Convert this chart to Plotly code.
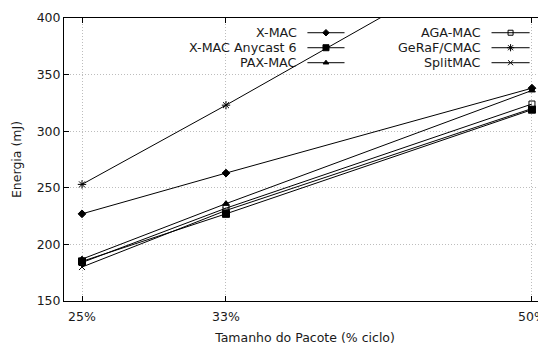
import plotly.graph_objects as go

x_vals = [25, 33, 50]
tick_labels = ["25%", "33%", "50%"]

names = ["X-MAC", "X-MAC Anycast 6", "PAX-MAC", "AGA-MAC", "GeRaF/CMAC", "SplitMAC"]
xmac = [227, 263, 338]
xmac_any = [185, 227, 319]
pax = [187, 236, 336]
aga = [184, 232, 324]
geraf = [253, 323, 476]
split = [180, 230, 320]
series = [xmac, xmac_any, pax, aga, geraf, split]
symbols = ["diamond", "square", "triangle-up", "square-open", "asterisk-open", "x-thin-open"]
sizes = [6, 7, 6, 6, 7, 6]

fig = go.Figure()
for n, s, sym, sz in zip(names, series, symbols, sizes):
    fig.add_trace(go.Scatter(x=x_vals, y=s, mode="lines+markers", name=n,
                             line=dict(color="black", width=1),
                             marker=dict(symbol=sym, size=sz, color="black",
                                         line=dict(color="black", width=1)),
                             showlegend=False, cliponaxis=True))

# custom gnuplot-style legend (text then line sample) in an overlay axis
leg_cols = [(0.487, 0.505, 0.582), (0.87, 0.887, 0.966)]
leg_rows = [0.948, 0.895, 0.842]
for i, (n, sym, sz) in enumerate(zip(names, symbols, sizes)):
    col = leg_cols[i // 3]
    row = leg_rows[i % 3]
    fig.add_trace(go.Scatter(x=[col[1], (col[1] + col[2]) / 2, col[2]], y=[row, row, row],
                             mode="lines", line=dict(color="black", width=1),
                             xaxis="x2", yaxis="y2", showlegend=False, hoverinfo="skip"))
    fig.add_trace(go.Scatter(x=[(col[1] + col[2]) / 2], y=[row], mode="markers",
                             marker=dict(symbol=sym, size=sz - 1, color="black",
                                         line=dict(color="black", width=1)),
                             xaxis="x2", yaxis="y2", showlegend=False, hoverinfo="skip"))
    fig.add_annotation(x=col[0], y=row, xref="x2", yref="y2", text=n, showarrow=False,
                       xanchor="right", yanchor="middle",
                       font=dict(family="DejaVu Sans", size=12.7, color="#1a1a1a"))

# page body has an 8px default margin, so margins are offset by 8px
fig.update_layout(
    width=546, height=345,
    margin=dict(l=56, r=8, t=10, b=52, autoexpand=False),
    paper_bgcolor="white", plot_bgcolor="white",
    font=dict(family="DejaVu Sans", size=12.5, color="#1a1a1a"),
    xaxis=dict(range=[24, 50.78], tickvals=x_vals, ticktext=tick_labels,
               showgrid=True, gridcolor="#bdbdbd", griddash="1px,2px", gridwidth=1,
               ticks="inside", ticklen=5, tickcolor="black", mirror="ticks",
               showline=True, linecolor="black", linewidth=1, zeroline=False,
               automargin=False, tickfont=dict(size=12.5), ticklabelstandoff=4,
               title=dict(text="Tamanho do Pacote (% ciclo)", font=dict(size=12.5), standoff=10)),
    yaxis=dict(range=[150, 400], tickvals=[150, 200, 250, 300, 350, 400],
               showgrid=True, gridcolor="#bdbdbd", griddash="1px,2px", gridwidth=1,
               ticks="inside", ticklen=5, tickcolor="black", mirror="ticks",
               showline=True, linecolor="black", linewidth=1, zeroline=False,
               automargin=False, tickfont=dict(size=12.5),
               title=dict(text="Energia (mJ)", font=dict(size=12.5, color="#1a1a1a"), standoff=12)),
    xaxis2=dict(range=[0, 1], overlaying="x", visible=False, fixedrange=True),
    yaxis2=dict(range=[0, 1], overlaying="y", visible=False, fixedrange=True),
)

fig.write_html("out.html")
